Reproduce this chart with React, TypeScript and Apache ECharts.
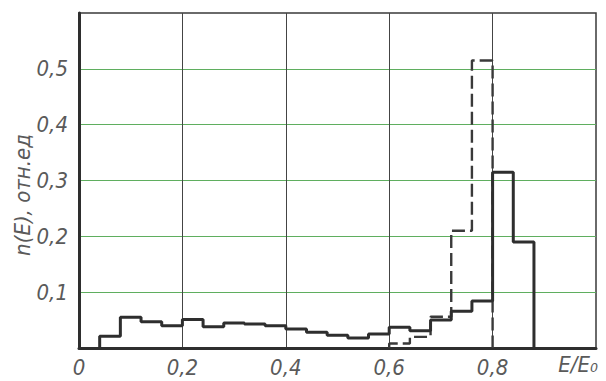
import React, { useEffect, useRef } from "react";
import * as echarts from "echarts";

// Histogram bins (left edges, width 0.04) and heights
const solidBinStarts = [0.04, 0.08, 0.12, 0.16, 0.2, 0.24, 0.28, 0.32, 0.36, 0.4, 0.44, 0.48, 0.52, 0.56, 0.6, 0.64, 0.68, 0.72, 0.76, 0.8, 0.84];
const solidValues = [0.021, 0.055, 0.047, 0.04, 0.051, 0.038, 0.045, 0.043, 0.04, 0.034, 0.028, 0.023, 0.018, 0.025, 0.037, 0.031, 0.05, 0.066, 0.084, 0.315, 0.19];
const solidEnd = 0.88;

const dashedBinStarts = [0.6, 0.64, 0.68, 0.72, 0.76];
const dashedValues = [0.008, 0.02, 0.056, 0.21, 0.515];
const dashedEnd = 0.8;

const xTickValues = [0, 0.2, 0.4, 0.6, 0.8];
const yTickValues = [0.1, 0.2, 0.3, 0.4, 0.5];

const yAxisTitle = "n(E), отн.ед";
const xAxisTitle = "E/E\u2080";

const FONT = "'Liberation Sans Narrow', 'DejaVu Sans Condensed', 'Liberation Sans', sans-serif";
const LABEL_COLOR = "#5a5a5a";

function stepData(starts: number[], values: number[], end: number) {
  const pts: number[][] = [[starts[0], 0]];
  starts.forEach((s, i) => pts.push([s, values[i]]));
  pts.push([end, 0]);
  return pts;
}

function fmt(v: number) {
  if (v === 0) return "0";
  return v.toFixed(1).replace(".", ",");
}

export default function App() {
  const ref = useRef<HTMLDivElement>(null);
  useEffect(() => {
    if (!ref.current) return;
    const chart = echarts.init(ref.current, undefined, { renderer: "svg" });
    chart.setOption({
      animation: false,
      backgroundColor: "#ffffff",
      grid: {
        left: 79,
        right: 10,
        top: 13,
        bottom: 33,
        show: true,
        borderColor: "#3a3a3a",
        borderWidth: 1.5,
        backgroundColor: "transparent",
      },
      xAxis: {
        type: "value",
        min: 0,
        max: 1,
        interval: 0.2,
        axisLine: { show: true, lineStyle: { color: "#2e2e2e", width: 3 } },
        axisTick: { show: false },
        splitLine: {
          show: true,
          showMinLine: false,
          showMaxLine: false,
          lineStyle: { color: "#444", width: 1 },
        },
        axisLabel: {
          margin: 8,
          color: LABEL_COLOR,
          fontSize: 22,
          fontStyle: "italic",
          fontFamily: FONT,
          formatter: (v: number) => (xTickValues.some((t) => Math.abs(t - v) < 1e-9) ? fmt(v) : ""),
        },
      },
      yAxis: {
        type: "value",
        min: 0,
        max: 0.6,
        interval: 0.1,
        axisLine: { show: true, lineStyle: { color: "#2e2e2e", width: 3 } },
        axisTick: { show: false },
        splitLine: {
          show: true,
          showMinLine: false,
          showMaxLine: false,
          lineStyle: { color: "#5fae5f", width: 1.2 },
        },
        axisLabel: {
          margin: 11,
          color: LABEL_COLOR,
          fontSize: 22,
          fontStyle: "italic",
          fontFamily: FONT,
          formatter: (v: number) => (yTickValues.some((t) => Math.abs(t - v) < 1e-9) ? fmt(v) : ""),
        },
      },
      graphic: [
        {
          type: "text",
          x: 22,
          y: 195,
          rotation: Math.PI / 2,
          style: {
            text: yAxisTitle,
            fill: LABEL_COLOR,
            font: `italic 22px ${FONT}`,
            textAlign: "center",
            textVerticalAlign: "middle",
          },
        },
        {
          type: "text",
          x: 578,
          y: 364,
          style: {
            text: xAxisTitle,
            fill: LABEL_COLOR,
            font: `italic 22px ${FONT}`,
            textAlign: "center",
            textVerticalAlign: "middle",
          },
        },
      ],
      series: [
        {
          type: "line",
          step: "end",
          symbol: "none",
          data: stepData(dashedBinStarts, dashedValues, dashedEnd),
          lineStyle: { color: "#3a3a3a", width: 2.4, type: [13, 5] },
          z: 3,
        },
        {
          type: "line",
          step: "end",
          symbol: "none",
          data: stepData(solidBinStarts, solidValues, solidEnd),
          lineStyle: { color: "#2e2e2e", width: 3 },
          z: 4,
        },
      ],
    });
    return () => chart.dispose();
  }, []);
  return <div ref={ref} style={{ width: 606, height: 381, position: "absolute", left: 0, top: 0 }} />;
}
